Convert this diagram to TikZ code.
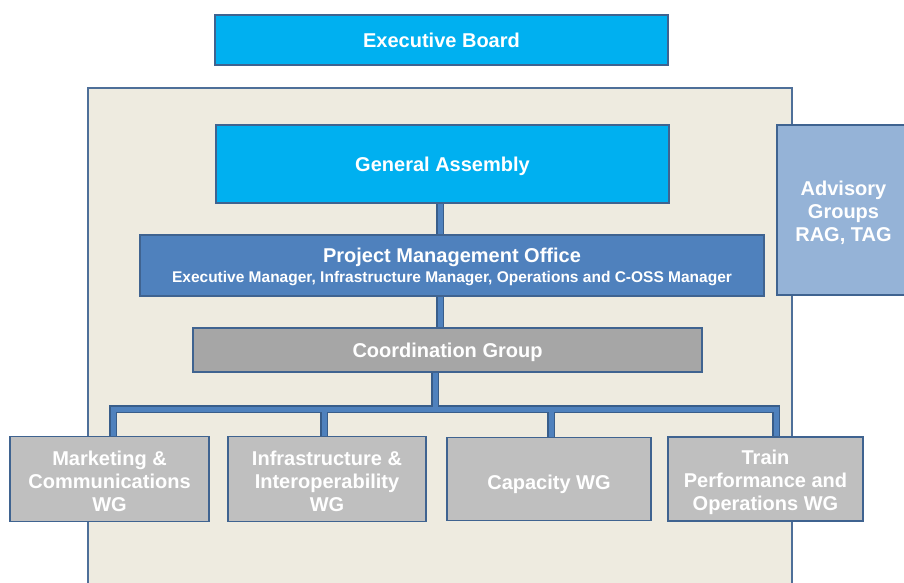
\documentclass[tikz,border=0pt]{standalone}
\usepackage{fontspec}
\setmainfont{Liberation Sans}
\usetikzlibrary{calc}
\definecolor{cyanb}{HTML}{00B0F0}
\definecolor{bordc}{HTML}{3F6390}
\definecolor{panelfill}{HTML}{EEEBE0}
\definecolor{panelline}{HTML}{4E6F99}
\definecolor{pmofill}{HTML}{4F81BD}
\definecolor{advfill}{HTML}{95B3D7}
\definecolor{cgfill}{HTML}{A6A6A6}
\definecolor{wgfill}{HTML}{BFBFBF}
\definecolor{connin}{HTML}{4F81BD}
\definecolor{connout}{HTML}{385D8A}
\newcommand{\upstrut}[1]{\rule{0pt}{#1pt}}
\pgfdeclarelayer{back}
\pgfdeclarelayer{mid}
\pgfsetlayers{back,mid,main}
\tikzset{
  box/.style={draw=bordc, line width=1.8pt, inner sep=0pt, align=center, text=white,
    font=\bfseries\fontsize{20}{23}\selectfont},
  connouter/.style={draw=connout, line width=7.5pt, line join=miter},
  conninner/.style={draw=connin, line width=5pt, line join=miter},
}
\begin{document}
\begin{tikzpicture}[x=1pt,y=-1pt]
\useasboundingbox (0,0) rectangle (904,583);
\begin{pgfonlayer}{back}
\fill[white] (0,0) rectangle (904,583);
\draw[draw=panelline, fill=panelfill, line width=2pt] (88,88) rectangle (792,600);
\end{pgfonlayer}
\node[box, fill=cyanb, minimum width=453pt, minimum height=50pt] (EB) at (441.5,40) {Executive Board};
\node[box, fill=cyanb, minimum width=453pt, minimum height=78pt] (GA) at (442.5,164) {\upstrut{18.5}General Assembly};
\node[box, fill=advfill, minimum width=133pt, minimum height=170pt] (ADV) at (843.5,210) {\upstrut{19.5}Advisory\\Groups\\RAG, TAG};
\node[box, fill=pmofill, minimum width=624pt, minimum height=61pt] (PMO) at (452,265.5)
  {\upstrut{17.5}Project Management Office\\[-3.7pt]{\fontsize{15.5}{17}\selectfont Executive Manager, Infrastructure Manager, Operations and C-OSS Manager}};
\node[box, fill=cgfill, minimum width=509pt, minimum height=44pt] (CG) at (447.5,350) {\upstrut{18.5}Coordination Group};
\node[box, fill=wgfill, minimum width=199pt, minimum height=85pt] (MC) at (109.5,479) {\upstrut{18.5}Marketing \&\\Communications\\WG};
\node[box, fill=wgfill, minimum width=198pt, minimum height=85pt] (II) at (327,479) {\upstrut{18.5}Infrastructure \&\\Interoperability\\WG};
\node[box, fill=wgfill, minimum width=204pt, minimum height=83pt] (CAP) at (549,479) {\upstrut{24.5}Capacity WG};
\node[box, fill=wgfill, minimum width=195pt, minimum height=84pt] (TP) at (765.5,479) {\upstrut{20.5}Train\\Performance and\\Operations WG};
\coordinate (j1) at (440,0);
\coordinate (j2) at (435,409);
\coordinate (bMC) at (113,409);
\coordinate (bII) at (324,409);
\coordinate (bCAP) at (551,409);
\coordinate (bTP) at (776,409);
\begin{pgfonlayer}{mid}
\foreach \s in {connouter,conninner}{
  \draw[\s] (GA.south -| j1) -- (PMO.north -| j1);
  \draw[\s] (PMO.south -| j1) -- (CG.north -| j1);
  \draw[\s] (CG.south -| j2) -- (j2);
  \draw[\s] (MC.north -| bMC) -- (bMC) -- (bTP) -- (TP.north -| bTP);
  \draw[\s] (bII) -- (II.north -| bII);
  \draw[\s] (bCAP) -- (CAP.north -| bCAP);
}
\end{pgfonlayer}
\end{tikzpicture}
\end{document}
